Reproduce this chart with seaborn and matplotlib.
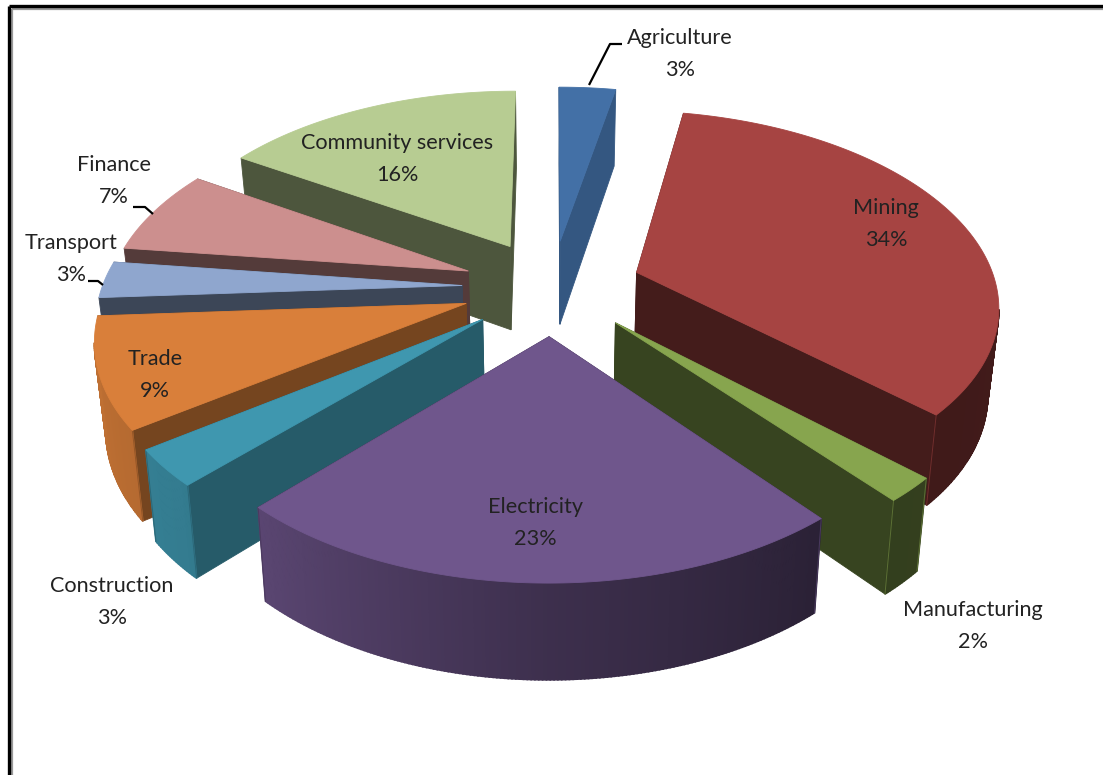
import numpy as np
import matplotlib
matplotlib.use("Agg")
import matplotlib.pyplot as plt
from matplotlib.colors import to_rgb
import seaborn as sns

# Sector shares, clockwise from twelve o'clock
sectors = ["Agriculture", "Mining", "Manufacturing", "Electricity", "Construction",
           "Trade", "Transport", "Finance", "Community services"]
shares = [3, 34, 2, 23, 3, 9, 3, 7, 16]
top_colours = ["#4370A6", "#A64442", "#87A54E", "#6F568C", "#3F97AF",
               "#D97F3A", "#8FA6CE", "#CC8F8E", "#B7CC92"]
# Brightness of the cut faces relative to each slice's top
cut_shade = [0.78, 0.41, 0.41, 0.4, 0.6, 0.54, 0.42, 0.41, 0.42]

# Label anchors (centre of the two-line text)
label_x = [680, 886, 973, 535, 112, 155, 71, 114, 397]
label_y = [54, 224, 626, 523, 602, 375, 259, 181, 159]

# Projection of the tilted pie
CX, CY = 552, 287
RX, RY = 360, 191
PERSPECTIVE = 0.155
EXPLODE = 0.25
THICKNESS = 85
TAPER = 0.975

sns.set_theme(style="white")
plt.rcParams["font.family"] = ["Lato", "DejaVu Sans"]
palette = sns.color_palette(top_colours)


def project(x, y):
    s = 1 / (1 - PERSPECTIVE * y)
    return CX + x * s * RX, CY + y * s * RY, s


def lower(px, py, s):
    return CX + (px - CX) * TAPER, py + THICKNESS * s ** 0.6


def outer_shade(theta):
    return np.interp(theta, [90, 140, 180, 225, 270], [0.4, 0.38, 0.55, 0.82, 0.9])


def scaled(colour, factor):
    return tuple(np.clip(np.array(to_rgb(colour)) * factor, 0, 1))


def face(ax, xs, ys, colour, z, lw=0.6):
    ax.fill(xs, ys, facecolor=colour, edgecolor=colour, linewidth=lw, zorder=z)


def draw_slice(ax, start, end, colour, cut, z):
    mid = np.radians((start + end) / 2)
    ox, oy = EXPLODE * np.sin(mid), -EXPLODE * np.cos(mid)
    thetas = np.linspace(start, end, max(int(end - start) * 2, 4) + 1)
    rad = np.radians(thetas)
    px, py, s = project(ox + np.sin(rad), oy - np.cos(rad))
    bx, by = lower(px, py, s)
    tx, ty, ts = project(ox, oy)
    tbx, tby = lower(tx, ty, ts)

    # Radial cuts sit behind everything else on the slice
    for k in (0, -1):
        face(ax, [tx, px[k], bx[k], tbx], [ty, py[k], by[k], tby], scaled(colour, cut), z)
    # Curved rim, shaded strip by strip; clockwise travel runs leftward on the near side
    facing = np.diff(px) < 0
    for i in np.flatnonzero(facing):
        shade = scaled(colour, outer_shade((thetas[i] + thetas[i + 1]) / 2))
        face(ax, [px[i], px[i + 1], bx[i + 1], bx[i]],
             [py[i], py[i + 1], by[i + 1], by[i]], shade, z + 0.1, lw=1.2)
    # Faint highlight down the outer corners
    for k in (0, -1):
        if facing[k]:
            ax.plot([px[k], bx[k]], [py[k], by[k]], color=scaled(colour, 0.68),
                    lw=0.7, zorder=z + 0.15)
    # Top surface
    face(ax, np.r_[tx, px], np.r_[ty, py], colour, z + 0.2)


fig = plt.figure(figsize=(11.03, 7.75), dpi=100, facecolor="white")
ax = fig.add_axes([0, 0, 1, 1])
ax.set_xlim(0, 1103)
ax.set_ylim(775, 0)
ax.axis("off")

edges = np.cumsum([0] + shares) / sum(shares) * 360
mids = (edges[:-1] + edges[1:]) / 2
order = np.argsort(-np.cos(np.radians(mids)))
for rank, i in enumerate(order):
    draw_slice(ax, edges[i], edges[i + 1], palette[i], cut_shade[i], 2 + rank)

for name, value, x, y in zip(sectors, shares, label_x, label_y):
    ax.text(x, y, f"{name}\n{value}%", ha="center", va="center", fontsize=15.6,
            color="#222222", linespacing=1.72, zorder=30)

# Leader lines
for lx, ly in [([589, 610, 622], [85, 44, 44]),
               ([133, 145, 153], [207, 207, 214]),
               ([88, 98, 103], [281, 281, 285])]:
    ax.plot(lx, ly, color="black", lw=1.6, zorder=30, solid_capstyle="butt")

# Picture frame along the left and top edges
ax.plot([9, 9], [775, 6], color="black", lw=2.4, zorder=40, solid_capstyle="butt")
ax.plot([9, 1103], [6, 6], color="black", lw=2.4, zorder=40, solid_capstyle="butt")
ax.plot([12, 12], [775, 9], color="#999999", lw=1.6, zorder=39, solid_capstyle="butt")
ax.plot([12, 1103], [9, 9], color="#999999", lw=1.6, zorder=39, solid_capstyle="butt")

fig.savefig("out.png", dpi=100)
